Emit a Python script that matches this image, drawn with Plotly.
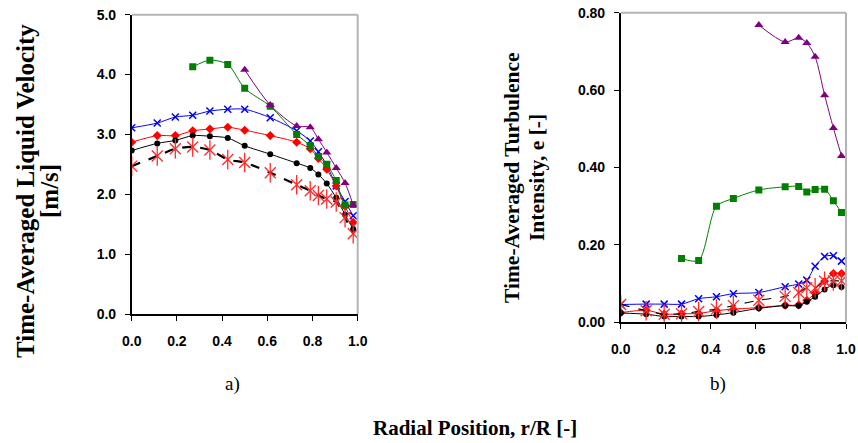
import plotly.graph_objects as go

# Radial measurement positions r/R
r_pos = [0.0, 0.113, 0.193, 0.27, 0.346, 0.425, 0.50, 0.613, 0.73, 0.79, 0.826, 0.863, 0.905, 0.944, 0.98]

# a) time-averaged liquid velocity [m/s]
vel_blue = [3.11, 3.19, 3.29, 3.32, 3.39, 3.42, 3.42, 3.28, 3.06, 2.89, 2.71, 2.49, 2.14, 1.88, 1.64]
vel_red = [2.87, 2.98, 2.98, 3.06, 3.09, 3.12, 3.07, 2.98, 2.87, 2.76, 2.60, 2.42, 2.14, 1.80, 1.53]
vel_black = [2.73, 2.85, 2.90, 2.98, 2.97, 2.94, 2.81, 2.67, 2.52, 2.44, 2.33, 2.18, 1.94, 1.66, 1.42]
vel_green = [4.13, 4.24, 4.17, 3.77, 3.47, 3.00, 2.81, 2.63, 2.50, 2.23, 1.82, 1.83]
vel_purple = [4.08, 3.49, 3.14, 3.12, 2.92, 2.70, 2.44, 2.19, 1.82]
vel_star = [2.47, 2.64, 2.76, 2.79, 2.74, 2.58, 2.53, 2.36, 2.16, 2.06, 1.98, 1.92, 1.87, 1.61, 1.34]

# b) time-averaged turbulence intensity e [-]
ti_blue = [0.046, 0.047, 0.047, 0.047, 0.061, 0.066, 0.074, 0.077, 0.092, 0.099, 0.109, 0.145, 0.170, 0.172, 0.158]
ti_red = [0.025, 0.031, 0.021, 0.022, 0.023, 0.030, 0.034, 0.038, 0.044, 0.045, 0.057, 0.075, 0.106, 0.126, 0.126]
ti_black = [0.024, 0.021, 0.015, 0.015, 0.015, 0.019, 0.025, 0.036, 0.043, 0.043, 0.053, 0.066, 0.085, 0.096, 0.091]
ti_green = [0.165, 0.160, 0.300, 0.320, 0.342, 0.350, 0.351, 0.337, 0.343, 0.344, 0.314, 0.284]
ti_purple = [0.768, 0.724, 0.735, 0.722, 0.686, 0.587, 0.502, 0.430]
ti_star = [0.046, 0.030, 0.021, 0.022, 0.028, 0.034, 0.043, 0.057, 0.067, 0.077, 0.089, 0.089, 0.106, 0.107, 0.107]

W, H = 858, 443
TICK_FONT = dict(family="Liberation Sans, Arial", size=14, color="black", weight="bold")
SERIF = "Liberation Serif, Times New Roman"
STAR_RED = "#ff2a2a"


def add_panel(fig, xa, ya, blue, red, black, green, purple, star, green_start, purple_start, dash_w):
    spl = dict(shape="spline", smoothing=0.8)
    fig.add_trace(go.Scatter(x=r_pos, y=blue, xaxis=xa, yaxis=ya, mode="lines+markers",
                             line=dict(color="#0000ff", width=1, **spl),
                             marker=dict(symbol="x-thin-open", size=7, color="#0000ff",
                                         line=dict(color="#0000ff", width=1.5))))
    fig.add_trace(go.Scatter(x=r_pos, y=red, xaxis=xa, yaxis=ya, mode="lines+markers",
                             line=dict(color="#ff0000", width=1, **spl),
                             marker=dict(symbol="diamond", size=7, color="#ff0000")))
    fig.add_trace(go.Scatter(x=r_pos, y=black, xaxis=xa, yaxis=ya, mode="lines+markers",
                             line=dict(color="#000000", width=1, **spl),
                             marker=dict(symbol="circle", size=6, color="#000000")))
    fig.add_trace(go.Scatter(x=r_pos[green_start:], y=green, xaxis=xa, yaxis=ya, mode="lines+markers",
                             line=dict(color="#008000", width=1, **spl),
                             marker=dict(symbol="square", size=7, color="#008000")))
    fig.add_trace(go.Scatter(x=r_pos[purple_start:], y=purple, xaxis=xa, yaxis=ya, mode="lines+markers",
                             line=dict(color="#800080", width=1, **spl),
                             marker=dict(symbol="triangle-up", size=8, color="#800080")))
    # dashed series with star markers (X plus vertical stroke)
    fig.add_trace(go.Scatter(x=r_pos, y=star, xaxis=xa, yaxis=ya, mode="lines",
                             line=dict(color="#000000", width=dash_w, dash="dash", **spl)))
    fig.add_trace(go.Scatter(x=r_pos, y=star, xaxis=xa, yaxis=ya, mode="markers",
                             marker=dict(symbol="x-thin-open", size=11, color=STAR_RED,
                                         line=dict(color=STAR_RED, width=1.3))))
    fig.add_trace(go.Scatter(x=r_pos, y=star, xaxis=xa, yaxis=ya, mode="markers",
                             marker=dict(symbol="line-ns-open", size=14, color=STAR_RED,
                                         line=dict(color=STAR_RED, width=1.3))))


fig = go.Figure()
add_panel(fig, "x", "y", vel_blue, vel_red, vel_black, vel_green, vel_purple, vel_star, 3, 6, 2.2)
add_panel(fig, "x2", "y2", ti_blue, ti_red, ti_black, ti_green, ti_purple, ti_star, 3, 7, 1.2)

x_common = dict(range=[0, 1], dtick=0.2, tickformat=".1f", ticks="outside", ticklen=5,
                tickcolor="black", showline=True, linecolor="black", linewidth=1.5,
                showgrid=False, zeroline=False, tickfont=TICK_FONT, ticklabelstandoff=8,
                automargin=False)
y_common = dict(ticks="outside", ticklen=5, tickcolor="black", showline=True, linecolor="black",
                linewidth=1.5, showgrid=False, zeroline=False, tickfont=TICK_FONT, ticklabelstandoff=6,
                automargin=False)

fig.update_layout(
    width=W, height=H, margin=dict(l=0, r=0, t=0, b=0, autoexpand=False),
    paper_bgcolor="white", plot_bgcolor="white", showlegend=False,
    xaxis=dict(domain=[131.7 / W, 357.7 / W], anchor="y", **x_common),
    yaxis=dict(domain=[(H - 314) / H, (H - 14.7) / H], anchor="x", range=[0, 5], dtick=1,
               tickformat=".1f", **y_common),
    xaxis2=dict(domain=[620.7 / W, 846 / W], anchor="y2", **x_common),
    yaxis2=dict(domain=[(H - 322.3) / H, (H - 12.7) / H], anchor="x2", range=[0, 0.8], dtick=0.2,
                tickformat=".2f", **y_common),
)

# light grey top/right borders of each plot area
for xr, yr in (("x domain", "y domain"), ("x2 domain", "y2 domain")):
    fig.add_shape(type="line", xref=xr, yref=yr, x0=0, x1=1, y0=1, y1=1,
                  line=dict(color="#b4b4b4", width=2))
    fig.add_shape(type="line", xref=xr, yref=yr, x0=1, x1=1, y0=0, y1=1,
                  line=dict(color="#b4b4b4", width=2))


def label(text, px, py, size, bold=True, angle=0):
    fig.add_annotation(text=f"<b>{text}</b>" if bold else text, textangle=angle,
                       x=px / W, y=(H - py) / H, xref="paper", yref="paper",
                       xanchor="center", yanchor="middle", showarrow=False,
                       font=dict(family=SERIF, size=size, color="black"))


# rotated axis titles, one annotation per line
label("Time-Averaged Liquid Velocity", 25, 191, 25, angle=-90)
label("[m/s]", 49, 191, 25, angle=-90)
label("Time-Averaged Turbulence", 512, 178, 21.5, angle=-90)
label("Intensity, e [-]", 537, 178, 21.5, angle=-90)
# panel tags and shared x title
label("a)", 232, 384, 19, bold=False)
label("b)", 718, 384, 19, bold=False)
label("Radial Position, r/R [-]", 475, 428, 21)

fig.write_html("out.html")
